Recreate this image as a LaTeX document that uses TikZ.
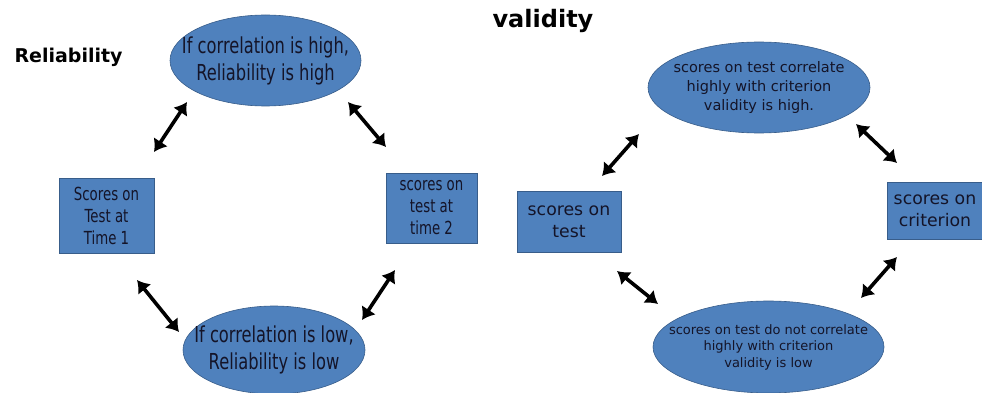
\documentclass[tikz,border=0pt]{standalone}
\usepackage{fontspec}
\setmainfont{DejaVu Sans}
\newfontfamily\narrowfont[FakeStretch=0.74]{DejaVu Sans}
\usetikzlibrary{shapes.geometric,arrows.meta}
\definecolor{boxblue}{RGB}{79,129,189}
\definecolor{edgeblue}{RGB}{56,93,138}
\definecolor{inktext}{RGB}{20,20,40}

\begin{document}
\begin{tikzpicture}[x=1pt,y=-1pt,
  blob/.style={ellipse,fill=boxblue,draw=edgeblue,line width=0.6pt,inner xsep=-20pt,inner ysep=0pt,align=center,text=inktext},
  card/.style={rectangle,fill=boxblue,draw=edgeblue,line width=0.6pt,inner sep=0pt,align=center,text=inktext},
  twoway/.style={line width=3.6pt,{Latex[length=12pt,width=17pt]}-{Latex[length=12pt,width=17pt]}}]
\useasboundingbox (0,0) rectangle (982,393);

% Titles
\node (reltitle) [anchor=west,font=\fontsize{19}{22}\selectfont\bfseries] at (11,57) {Reliability};
\node (valtitle) [anchor=west,font=\fontsize{24}{26}\selectfont\bfseries] at (489,21) {validity};

%Shape: Ellipse, reliability high
\node (relhigh) [blob,minimum width=191,minimum height=91,font=\narrowfont\fontsize{22}{27}\selectfont] at (265.5,60.5)
  {If correlation is high,\\ Reliability is high};
%Shape: Ellipse, reliability low
\node (rellow) [blob,minimum width=182,minimum height=88,font=\narrowfont\fontsize{22}{27}\selectfont] at (274,350)
  {If correlation is low,\\ Reliability is low};
%Shape: Square, time 1
\node (time1) [card,minimum width=95,minimum height=75,font=\narrowfont\fontsize{18}{22}\selectfont] at (106.5,215.5)
  {Scores on\\ Test at\\ Time 1};
%Shape: Square, time 2
\node (time2) [card,minimum width=91,minimum height=70,font=\narrowfont\fontsize{18}{22}\selectfont] at (431.5,208)
  {scores on\\ test at\\ time 2};

%Shape: Ellipse, validity high
\node (valhigh) [blob,minimum width=222,minimum height=91,font=\fontsize{14.5}{18.5}\selectfont] at (759,87.5)
  {scores on test correlate\\ highly with criterion\\ validity is high.};
%Shape: Ellipse, validity low
\node (vallow) [blob,minimum width=231,minimum height=92,font=\fontsize{13}{16.5}\selectfont] at (768.5,347)
  {scores on test do not correlate\\ highly with criterion\\ validity is low};
%Shape: Square, test
\node (ontest) [card,minimum width=104,minimum height=61,font=\fontsize{17.3}{22}\selectfont] at (569,221.5)
  {scores on\\ test};
%Shape: Square, criterion
\node (oncrit) [card,minimum width=96,minimum height=57,font=\fontsize{17.3}{22}\selectfont] at (935,210.5)
  {scores on\\ criterion};

% arrow ends
\coordinate (ra1) at (154,152);  \coordinate (rb1) at (187,102);
\coordinate (ra2) at (348,102);  \coordinate (rb2) at (386,147);
\coordinate (ra3) at (137,280);  \coordinate (rb3) at (179,332);
\coordinate (ra4) at (362,320);  \coordinate (rb4) at (395,270);
\coordinate (va1) at (602,176);  \coordinate (vb1) at (639,134);
\coordinate (va2) at (856,124);  \coordinate (vb2) at (897,163);
\coordinate (va3) at (617,271);  \coordinate (vb3) at (658,304);
\coordinate (va4) at (861,298);  \coordinate (vb4) at (897,257);

%Straight Lines
\foreach \p in {1,...,4}{
  \draw [twoway] (ra\p) -- (rb\p);
  \draw [twoway] (va\p) -- (vb\p);
}

\end{tikzpicture}
\end{document}
